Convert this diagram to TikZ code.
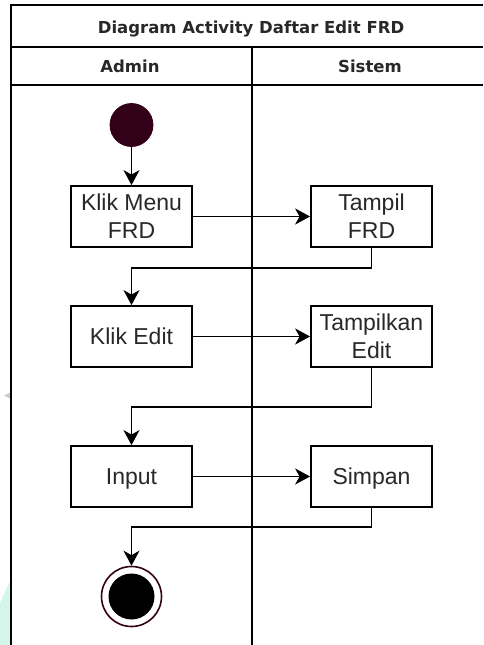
\documentclass[tikz,border=0pt]{standalone}
\usepackage{fontspec}
\setmainfont{Liberation Sans}
\newfontfamily\headfont{DejaVu Sans}
\usetikzlibrary{arrows.meta}
\definecolor{maroon}{RGB}{51,0,25}
\definecolor{mint}{RGB}{212,246,233}
\definecolor{txt}{RGB}{40,40,40}
\tikzset{
  lane/.style={line width=1.8pt, draw=black},
  actbox/.style={draw=black, line width=1.8pt, rectangle, minimum width=121pt, minimum height=61pt,
    align=center, inner sep=0pt, text=txt, font=\fontsize{23}{28}\selectfont},
  nodesc/.style={text depth=0pt},
  headtext/.style={font=\headfont\bfseries\fontsize{16.5}{20}\selectfont, text=txt, inner sep=0pt},
  arr/.style={line width=1.8pt, -{Stealth[length=15pt, width=16pt, inset=4.5pt]}},
  startst/.style={circle, fill=maroon, draw=maroon, line width=0.8pt, minimum size=43pt, inner sep=0pt},
  endst/.style={circle, draw=maroon, line width=1.6pt, fill=white, minimum size=60pt, inner sep=0pt},
}
\begin{document}
\begin{tikzpicture}[x=1pt, y=-1pt]
\useasboundingbox (0,0) rectangle (483,645);
% background artifacts
\fill[mint] (0,603) -- (9,583) -- (10,583) -- (10,645) -- (0,645) -- cycle;
\fill[gray!40] (4,395.5) -- (10,392.5) -- (10,398.5) -- cycle;
% swimlane frame
\draw[lane] (483,5) -- (11,5) -- (11,645);
\draw[lane] (11,47) -- (483,47);
\draw[lane] (11,85) -- (483,85);
\draw[lane] (252,47) -- (252,645);
\node[headtext, nodesc] (title) at (251,27) {Diagram Activity Daftar Edit FRD};
\node[headtext] (admin) at (130,66.5) {Admin};
\node[headtext] (sistem) at (370,66.5) {Sistem};
% activity nodes
\node[startst] (start) at (131.5,125) {};
\node[actbox] (a1) at (131.5,216.5) {Klik Menu\\FRD};
\node[actbox] (b1) at (371.5,216.5) {Tampil\\FRD};
\node[actbox] (a2) at (131.5,336.5) {Klik Edit};
\node[actbox] (b2) at (371.5,336.5) {Tampilkan\\Edit};
\node[actbox, nodesc] (a3) at (131.5,476.5) {Input};
\node[actbox, nodesc] (b3) at (371.5,476.5) {Simpan};
\node[endst] (end) at (131.5,596.5) {};
\fill[black] (end.center) circle (23pt);
% connectors
\draw[arr] (start) -- (a1);
\draw[arr] (a1) -- (b1);
\draw[arr] (b1.south) -- ++(0,20) -| (a2.north);
\draw[arr] (a2) -- (b2);
\draw[arr] (b2.south) -- ++(0,39) -| (a3.north);
\draw[arr] (a3) -- (b3);
\draw[arr] (b3.south) -- ++(0,19) -| (end.north);
\end{tikzpicture}
\end{document}
